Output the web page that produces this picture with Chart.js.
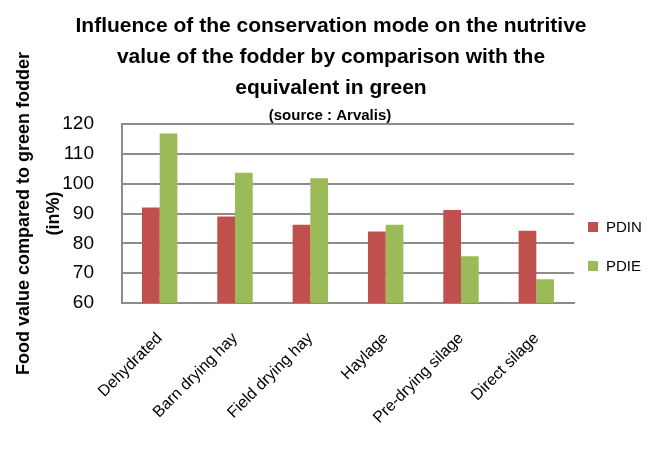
<!DOCTYPE html>
<html>
<head>
<meta charset="utf-8">
<script src="https://cdn.jsdelivr.net/npm/chart.js@4.4.0/dist/chart.umd.min.js"></script>
<style>
  html, body { margin: 0; padding: 0; background: #fff; }
  #wrap { width: 654px; height: 455px; }
</style>
</head>
<body>
<div id="wrap"><canvas id="feedChart"></canvas></div>
<script>
const categories = ['Dehydrated', 'Barn drying hay', 'Field drying hay', 'Haylage', 'Pre-drying silage', 'Direct silage'];
const pdinValues = [92, 89, 86.2, 84, 91.2, 84.2];
const pdieValues = [116.8, 103.7, 101.8, 86.2, 75.7, 68];
const titleLines = [
    'Influence of the conservation mode on the nutritive',
    'value of the fodder by comparison with the',
    'equivalent in green'
];
const subtitleText = '(source : Arvalis)';
const yTitleLines = ['Food value compared to green fodder', '(in%)'];

const RED = '#C0504D';
const GREEN = '#9BBB59';
const GRID = '#8c8c8c';
const SANS = '"Liberation Sans", Arial, sans-serif';

// title and legend drawn by hand so they sit where the original has them
const decorPlugin = {
    id: 'decor',
    afterDraw(chart) {
        const ctx = chart.ctx;
        ctx.save();
        ctx.fillStyle = '#000';
        ctx.textAlign = 'center';
        ctx.textBaseline = 'alphabetic';
        ctx.font = 'bold 21px ' + SANS;
        titleLines.forEach((line, i) => ctx.fillText(line, 331, 32 + i * 31));
        ctx.font = 'bold 15px ' + SANS;
        ctx.fillText(subtitleText, 330, 120);

        ctx.textAlign = 'left';
        ctx.textBaseline = 'middle';
        ctx.font = '15px ' + SANS;
        chart.data.datasets.forEach((ds, i) => {
            const y = 227 + i * 39;
            ctx.fillStyle = ds.backgroundColor;
            ctx.fillRect(588, y - 5, 10, 10);
            ctx.fillStyle = '#000';
            ctx.fillText(ds.label, 606, y + 1);
        });
        ctx.restore();
    }
};

new Chart(document.getElementById('feedChart'), {
    type: 'bar',
    data: {
        labels: categories,
        datasets: [
            { label: 'PDIN', data: pdinValues, backgroundColor: RED },
            { label: 'PDIE', data: pdieValues, backgroundColor: GREEN }
        ]
    },
    options: {
        responsive: true,
        maintainAspectRatio: false,
        animation: false,
        layout: { padding: { top: 124, right: 80, left: 0, bottom: 0 } },
        datasets: { bar: { categoryPercentage: 0.47, barPercentage: 1.0 } },
        plugins: {
            legend: { display: false },
            title: { display: false },
            tooltip: { enabled: false }
        },
        scales: {
            x: {
                grid: { display: false, drawTicks: false },
                border: { color: GRID, width: 2 },
                ticks: {
                    color: '#000',
                    font: { family: SANS, size: 16 },
                    maxRotation: 45,
                    minRotation: 45,
                    padding: 26
                },
                afterFit(scale) { scale.height = 152; }
            },
            y: {
                min: 60,
                max: 120,
                grid: { color: GRID, lineWidth: 2, drawTicks: false },
                border: { color: GRID, width: 2 },
                ticks: {
                    stepSize: 10,
                    color: '#000',
                    font: { family: SANS, size: 19 },
                    padding: 28
                },
                title: {
                    display: true,
                    text: yTitleLines,
                    color: '#000',
                    font: { family: SANS, size: 18, weight: 'bold', lineHeight: 1.65 },
                    padding: { top: 9, bottom: 0 }
                },
                afterFit(scale) { scale.width = 122; }
            }
        }
    },
    plugins: [decorPlugin]
});
</script>
</body>
</html>
